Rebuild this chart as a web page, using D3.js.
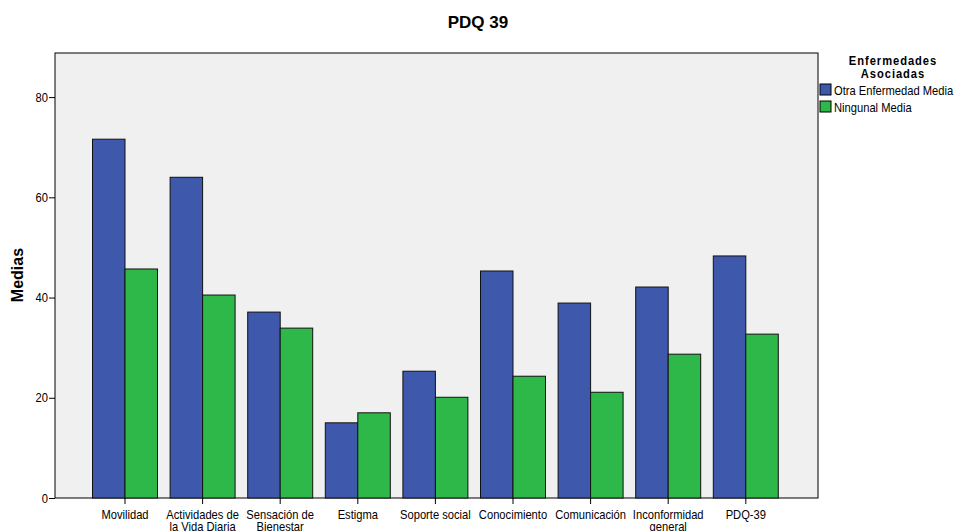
<!DOCTYPE html>
<html><head><meta charset="utf-8">
<script src="https://cdn.jsdelivr.net/npm/d3@7"></script>
<style>body{margin:0;background:#fff;} svg{display:block;font-family:"Liberation Sans",Arial,sans-serif;}</style>
</head><body>
<svg id="c" width="955" height="531"></svg>
<script>
const categories = [["Movilidad"],["Actividades de","la Vida Diaria"],["Sensación de","Bienestar"],["Estigma"],["Soporte social"],["Conocimiento"],["Comunicación"],["Inconformidad","general"],["PDQ-39"]];
const seriesNames = ["Otra Enfermedad Media","Ningunal Media"];
const otraValues = [71.6,64.0,37.1,15.0,25.3,45.3,38.9,42.1,48.3];
const ningunaValues = [45.7,40.5,33.9,17.0,20.1,24.3,21.1,28.7,32.7];
const yTicks = [0,20,40,60,80];
const colors = ["#3E58AC","#2EB84A"];

const svg = d3.select("#c");
const L=55,T=53,R=818,B=498;
const SX = 0.86;
function ntext(parent, xx, yy, lines, anchor, size){
  const g = parent.append("g").attr("transform",`translate(${xx},${yy}) scale(${SX},1)`);
  const t = g.append("text").attr("text-anchor",anchor).attr("font-size",size).attr("fill","#000");
  lines.forEach((line,li)=>t.append("tspan").attr("x",0).attr("dy",li?12:0).text(line));
  return t;
}
const keys = categories.map(c=>c.join(" "));
const x = d3.scaleBand().domain(keys).range([86.2,784.6]).padding(0);
const xi = d3.scaleBand().domain([0,1]).range([0,x.step()]).paddingInner(0).paddingOuter(0.194);
const y = d3.scaleLinear().domain([0,88.8]).range([B,T]);

svg.append("rect").attr("x",L).attr("y",T).attr("width",R-L).attr("height",B-T).attr("fill","#F0F0F0").attr("stroke","#000").attr("stroke-width",1);

const data = keys.map((k,i)=>({k,v:[otraValues[i],ningunaValues[i]]}));
const g = svg.append("g");
data.forEach(d=>{
  d.v.forEach((v,j)=>{
    g.append("rect").attr("x",x(d.k)+xi(j)).attr("y",y(v)).attr("width",xi.bandwidth()).attr("height",B-y(v))
      .attr("fill",colors[j]).attr("stroke","#111").attr("stroke-width",1);
  });
});

// y axis
const ya = svg.append("g").attr("transform",`translate(${L},0)`).call(d3.axisLeft(y).tickValues(yTicks).tickSize(6).tickFormat(""));
ya.select(".domain").remove();
ya.selectAll("line").attr("stroke","#000");
yTicks.forEach(v=>ntext(svg, 48, y(v)+4.5, [d3.format("d")(v)], "end", 13));

// x axis
const xa = svg.append("g").attr("transform",`translate(0,${B})`).call(d3.axisBottom(x).tickSize(6).tickFormat(""));
xa.select(".domain").remove();
xa.selectAll("line").attr("stroke","#000");
categories.forEach((c,i)=>ntext(svg, x(keys[i])+x.bandwidth()/2, 519, c, "middle", 13));

// title
svg.append("text").attr("x",478).attr("y",28).attr("text-anchor","middle").attr("font-size",17).attr("font-weight","bold").text("PDQ 39");
// y label
svg.append("text").attr("transform","translate(23,275) rotate(-90)").attr("text-anchor","middle").attr("font-size",16).attr("font-weight","bold").text("Medias");

// legend
const lg = svg.append("g");
["Enfermedades","Asociadas"].forEach((s,i)=>{
  const t = ntext(lg, 893, 65+i*13, [s], "middle", 13);
  t.attr("font-weight","bold").attr("letter-spacing",1.1);
});
seriesNames.forEach((s,i)=>{
  lg.append("rect").attr("x",820).attr("y",84+i*17).attr("width",11).attr("height",11).attr("fill",colors[i]).attr("stroke","#000");
  ntext(lg, 834, 95+i*17, [s], "start", 13);
});
</script>
</body></html>
